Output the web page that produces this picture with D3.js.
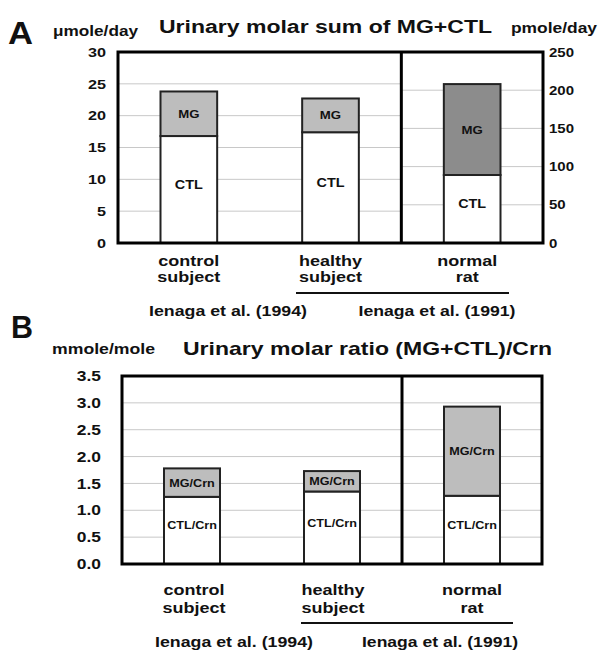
<!DOCTYPE html>
<html>
<head>
<meta charset="utf-8">
<script src="https://cdn.jsdelivr.net/npm/d3@7"></script>
<style>
  body { margin: 0; background: #fff; }
  text { font-family: "Liberation Sans", Arial, sans-serif; font-weight: bold; fill: #111; }
</style>
</head>
<body>
<div id="chart"></div>
<script>
// data
var groups = ["control", "healthy", "rat"];
var groupLines = [["control", "subject"], ["healthy", "subject"], ["normal", "rat"]];

// panel A: umole/day for humans (left axis), pmole/day for rat (right axis)
var ctlA = [16.8, 17.4, 89];
var mgA = [7.0, 5.3, 119];
var axisA = ["left", "left", "right"];

// panel B: mmole/mole
var ctlB = [1.25, 1.35, 1.27];
var mgB = [0.53, 0.38, 1.66];

var ticksALeft = [0, 5, 10, 15, 20, 25, 30];
var ticksARight = [0, 50, 100, 150, 200, 250];
var ticksB = [0, 0.5, 1, 1.5, 2, 2.5, 3, 3.5];

var svg = d3.select("#chart").append("svg")
    .attr("width", 601)
    .attr("height", 650);

// the lettering in the figure is wider than Arial, so stretch it afterwards
var stretch = 1.2;

// ---------- Panel A ----------
var A = { left: 118, right: 543, top: 52, bottom: 243 };

var xA = d3.scaleBand().domain(groups)
    .range([A.left, A.right])
    .paddingInner(0.6).paddingOuter(0.3);
var yALeft = d3.scaleLinear().domain([0, 30]).range([A.bottom, A.top]);
var yARight = d3.scaleLinear().domain([0, 250]).range([A.bottom, A.top]);
var divA = A.left + xA.step() * 2;

var gA = svg.append("g");

// gridlines
gA.selectAll(".gridL").data(ticksALeft.slice(1, -1)).enter().append("line")
    .attr("x1", A.left).attr("x2", divA)
    .attr("y1", d => yALeft(d)).attr("y2", d => yALeft(d))
    .attr("stroke", "#c8c8c8").attr("stroke-width", 1);
gA.selectAll(".gridR").data(ticksARight.slice(1, -1)).enter().append("line")
    .attr("x1", divA).attr("x2", A.right)
    .attr("y1", d => yARight(d)).attr("y2", d => yARight(d))
    .attr("stroke", "#c8c8c8").attr("stroke-width", 1);

function yScaleA(i) { return axisA[i] == "left" ? yALeft : yARight; }

// bars
groups.forEach(function(g, i) {
    var y = yScaleA(i);
    var x0 = xA(g), w = xA.bandwidth();
    gA.append("rect")
        .attr("x", x0).attr("width", w)
        .attr("y", y(ctlA[i])).attr("height", y(0) - y(ctlA[i]))
        .attr("fill", "#fff").attr("stroke", "#222").attr("stroke-width", 2);
    gA.append("rect")
        .attr("x", x0).attr("width", w)
        .attr("y", y(ctlA[i] + mgA[i])).attr("height", y(0) - y(mgA[i]))
        .attr("fill", i == 2 ? "#8c8c8c" : "#bdbdbd").attr("stroke", "#222").attr("stroke-width", 2);
    gA.append("text")
        .attr("x", x0 + w / 2).attr("y", y(ctlA[i] / 2) - 1)
        .attr("text-anchor", "middle").attr("font-size", 12)
        .text("CTL");
    gA.append("text")
        .attr("x", x0 + w / 2).attr("y", y(ctlA[i] + mgA[i] / 2) + 4)
        .attr("text-anchor", "middle").attr("font-size", 11)
        .text("MG");
});

// frame
gA.append("rect")
    .attr("x", A.left).attr("y", A.top)
    .attr("width", A.right - A.left).attr("height", A.bottom - A.top)
    .attr("fill", "none").attr("stroke", "#000").attr("stroke-width", 3);
gA.append("line")
    .attr("x1", divA).attr("x2", divA).attr("y1", A.top).attr("y2", A.bottom)
    .attr("stroke", "#000").attr("stroke-width", 3);

// axes (labels only)
var axL = gA.append("g").attr("transform", `translate(${A.left - 8},0)`)
    .call(d3.axisLeft(yALeft).tickValues(ticksALeft).tickSize(0).tickPadding(4));
var axR = gA.append("g").attr("transform", `translate(${A.right + 2},0)`)
    .call(d3.axisRight(yARight).tickValues(ticksARight).tickSize(0).tickPadding(4));
axL.select(".domain").remove();
axR.select(".domain").remove();
axL.attr("font-family", null);
axR.attr("font-family", null);
axL.selectAll("text").attr("font-size", 13.5).attr("fill", "#111");
axR.selectAll("text").attr("font-size", 12.5).attr("fill", "#111");

// category labels
groups.forEach(function(g, i) {
    var cx = xA(g) + xA.bandwidth() / 2 - (i == 2 ? 5 : 0);
    groupLines[i].forEach(function(s, j) {
        gA.append("text").attr("x", cx).attr("y", 266 + j * 16)
            .attr("text-anchor", "middle").attr("font-size", 15).text(s);
    });
});
gA.append("line").attr("x1", 296).attr("x2", 509).attr("y1", 293).attr("y2", 293)
    .attr("stroke", "#111").attr("stroke-width", 2);
gA.append("text").attr("x", 228).attr("y", 316).attr("text-anchor", "middle")
    .attr("font-size", 14).attr("data-w", 158).text("Ienaga et al. (1994)");
gA.append("text").attr("x", 437).attr("y", 316).attr("text-anchor", "middle")
    .attr("font-size", 14).attr("data-w", 157).text("Ienaga et al. (1991)");

// titles
svg.append("text").attr("x", 8).attr("y", 44).attr("font-size", 32).attr("data-w", 25).text("A");
svg.append("text").attr("x", 53).attr("y", 36).attr("font-size", 14).attr("data-w", 85).text("μmole/day");
svg.append("text").attr("x", 159).attr("y", 33).attr("font-size", 18).attr("data-w", 333).text("Urinary molar sum of MG+CTL");
svg.append("text").attr("x", 511).attr("y", 33).attr("font-size", 14).attr("data-w", 86).text("pmole/day");

// ---------- Panel B ----------
var B = { left: 122, right: 542, top: 376, bottom: 564 };
var xB = d3.scaleBand().domain(groups)
    .range([B.left, B.right])
    .paddingInner(0.6).paddingOuter(0.3);
var yB = d3.scaleLinear().domain([0, 3.5]).range([B.bottom, B.top]);
var divB = B.left + xB.step() * 2;

var gB = svg.append("g");
gB.selectAll(".gridB").data(ticksB.slice(1, -1)).enter().append("line")
    .attr("x1", B.left).attr("x2", B.right)
    .attr("y1", d => yB(d)).attr("y2", d => yB(d))
    .attr("stroke", "#c8c8c8").attr("stroke-width", 1);

groups.forEach(function(g, i) {
    var x0 = xB(g), w = xB.bandwidth();
    gB.append("rect")
        .attr("x", x0).attr("width", w)
        .attr("y", yB(ctlB[i])).attr("height", yB(0) - yB(ctlB[i]))
        .attr("fill", "#fff").attr("stroke", "#222").attr("stroke-width", 2);
    gB.append("rect")
        .attr("x", x0).attr("width", w)
        .attr("y", yB(ctlB[i] + mgB[i])).attr("height", yB(0) - yB(mgB[i]))
        .attr("fill", "#bdbdbd").attr("stroke", "#222").attr("stroke-width", 2);
    gB.append("text")
        .attr("x", x0 + w / 2).attr("y", yB(ctlB[i] / 2) - 1)
        .attr("text-anchor", "middle").attr("font-size", 10.5)
        .text("CTL/Crn");
    gB.append("text")
        .attr("x", x0 + w / 2).attr("y", yB(ctlB[i] + mgB[i] / 2) + 4)
        .attr("text-anchor", "middle").attr("font-size", 10.5)
        .text("MG/Crn");
});

gB.append("rect")
    .attr("x", B.left).attr("y", B.top)
    .attr("width", B.right - B.left).attr("height", B.bottom - B.top)
    .attr("fill", "none").attr("stroke", "#000").attr("stroke-width", 3);
gB.append("line")
    .attr("x1", divB).attr("x2", divB).attr("y1", B.top).attr("y2", B.bottom)
    .attr("stroke", "#000").attr("stroke-width", 3);

var axB = gB.append("g").attr("transform", `translate(${B.left - 17},0)`)
    .call(d3.axisLeft(yB).tickValues(ticksB).tickSize(0).tickPadding(4).tickFormat(d3.format(".1f")));
axB.select(".domain").remove();
axB.attr("font-family", null);
axB.selectAll("text").attr("font-size", 14.5).attr("fill", "#111");

var catB = [194, 333, 472];
groups.forEach(function(g, i) {
    groupLines[i].forEach(function(s, j) {
        gB.append("text").attr("x", catB[i]).attr("y", 595 + j * 18)
            .attr("text-anchor", "middle").attr("font-size", 15).text(s);
    });
});
gB.append("line").attr("x1", 301).attr("x2", 513).attr("y1", 623).attr("y2", 623)
    .attr("stroke", "#111").attr("stroke-width", 2);
gB.append("text").attr("x", 234).attr("y", 647).attr("text-anchor", "middle")
    .attr("font-size", 14).attr("data-w", 158).text("Ienaga et al. (1994)");
gB.append("text").attr("x", 440).attr("y", 647).attr("text-anchor", "middle")
    .attr("font-size", 14).attr("data-w", 156).text("Ienaga et al. (1991)");

svg.append("text").attr("x", 11).attr("y", 338).attr("font-size", 32).attr("data-w", 22).text("B");
svg.append("text").attr("x", 52).attr("y", 354).attr("font-size", 14).attr("data-w", 103).text("mmole/mole");
svg.append("text").attr("x", 183).attr("y", 355).attr("font-size", 19).attr("data-w", 369).text("Urinary molar ratio (MG+CTL)/Crn");

// widen all lettering
svg.selectAll("text").each(function() {
    var t = d3.select(this);
    var w = t.attr("data-w") ? +t.attr("data-w") : this.getComputedTextLength() * stretch;
    t.attr("textLength", w).attr("lengthAdjust", "spacingAndGlyphs");
});
</script>
</body>
</html>
